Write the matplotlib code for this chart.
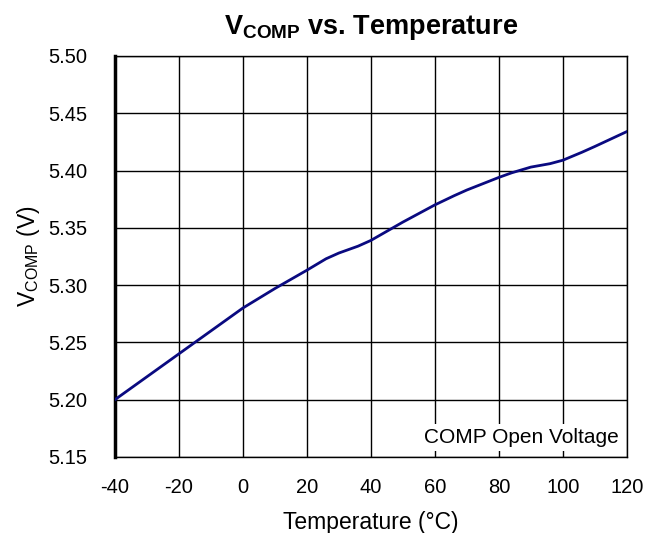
import numpy as np
import matplotlib.pyplot as plt

plt.rcParams['font.family'] = ['Liberation Sans', 'DejaVu Sans']
plt.rcParams['mathtext.fontset'] = 'custom'
plt.rcParams['mathtext.rm'] = 'Liberation Sans'
plt.rcParams['mathtext.bf'] = 'Liberation Sans:bold'
plt.rcParams['axes.unicode_minus'] = False

temp = [-40, -30, -20, -10, 0, 10, 20, 26, 30, 36, 40, 50, 60, 66, 70, 80, 84, 90, 96, 100, 106, 110, 120]
vcomp = [5.200, 5.220, 5.240, 5.260, 5.280, 5.297, 5.313, 5.323, 5.328, 5.334, 5.339, 5.355, 5.370, 5.378, 5.383, 5.394,
         5.398, 5.403, 5.406, 5.409, 5.416, 5.421, 5.434]
yticks = [5.15, 5.20, 5.25, 5.30, 5.35, 5.40, 5.45, 5.50]

fig = plt.figure(figsize=(6.64, 5.33), dpi=100)
ax = fig.add_axes([0.173, 0.1426, 0.771, 0.7524])

ax.plot(temp, vcomp, color='#0a0a80', linewidth=2, zorder=3)

ax.set_xlim(-40, 120)
ax.set_ylim(5.15, 5.50)
ax.set_xticks(np.arange(-40, 121, 20))
ax.set_yticks(yticks)
ax.set_yticklabels(['{:.2f}'.format(v) for v in yticks])
ax.grid(True, color='black', linewidth=1)
ax.tick_params(axis='both', length=0, labelsize=14.5)
ax.tick_params(axis='x', pad=15)
ax.tick_params(axis='y', pad=20)
for s in ax.spines.values():
    s.set_linewidth(1)
ax.spines['left'].set_linewidth(2.5)

ax.set_xlabel('Temperature (°C)', fontsize=16.5, labelpad=10)
ax.set_ylabel(r'V$_{\mathrm{COMP}}$ (V)', fontsize=16.5, labelpad=4)
ax.set_title(r'V$_{\mathbf{COMP}}$ vs. Temperature', fontsize=19.5, fontweight='bold', pad=16)

ax.text(0.985, 0.025, 'COMP Open Voltage', transform=ax.transAxes, ha='right', va='bottom',
        fontsize=15, zorder=4, bbox=dict(facecolor='white', edgecolor='none', pad=3))

fig.savefig('out.png', dpi=100)
